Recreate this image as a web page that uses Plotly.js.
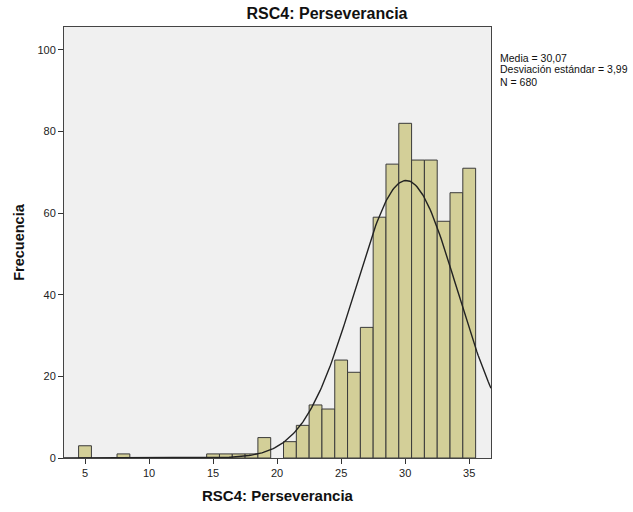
<!DOCTYPE html>
<html>
<head>
<meta charset="utf-8">
<script src="https://cdn.plot.ly/plotly-3.0.1.min.js"></script>
<style>html,body{margin:0;padding:0;background:#fff;}#chart{width:633px;height:512px;}</style>
</head>
<body>
<div id="chart"></div>
<script>
var categories = [5, 8, 15, 16, 17, 18, 19, 21, 22, 23, 24, 25, 26, 27, 28, 29, 30, 31, 32, 33, 34, 35];
var frequencies = [3, 1, 1, 1, 1, 1, 5, 4, 8, 13, 12, 24, 21, 32, 59, 72, 82, 73, 73, 58, 65, 71];
var xTickVals = [5, 10, 15, 20, 25, 30, 35];
var yTickVals = [0, 20, 40, 60, 80, 100];
var mean = 30.07;
var sd = 3.99;
var n = 680;
var statsLines = ["Media = 30,07", "Desviación estándar = 3,99", "N = 680"];

var xRange = [3.36, 36.7];
var curveX = [], curveY = [];
for (var i = 0; i <= 300; i++) {
  var x = xRange[0] + (xRange[1] - xRange[0]) * i / 300;
  curveX.push(x);
  curveY.push(n / (sd * Math.sqrt(2 * Math.PI)) * Math.exp(-0.5 * Math.pow((x - mean) / sd, 2)));
}

var data = [
  {type: 'bar', x: categories, y: frequencies, width: 1,
   marker: {color: '#d3cf98', line: {color: '#3a3a3a', width: 1}}, hoverinfo: 'x+y'},
  {type: 'scatter', mode: 'lines', x: curveX, y: curveY,
   line: {color: '#222222', width: 1.4}, hoverinfo: 'skip'}
];

var font = 'Liberation Sans, Arial, sans-serif';
var statsY = [0.9292, 0.9014, 0.8735];
var annotations = statsLines.map(function (t, k) {
  return {xref: 'paper', yref: 'paper', x: 1.019, y: statsY[k], xanchor: 'left', yanchor: 'middle',
          align: 'left', showarrow: false, text: t, borderpad: 0,
          font: {family: font, size: 10.5, color: '#111'}};
});

var layout = {
  width: 633, height: 512,
  margin: {l: 64, r: 142, t: 27, b: 54},
  paper_bgcolor: '#ffffff', plot_bgcolor: '#f0f0f0',
  showlegend: false, bargap: 0,
  font: {family: font, size: 11, color: '#222'},
  title: {text: '<b>RSC4: Perseverancia</b>', font: {family: font, size: 16, color: '#111'},
          x: 0.5166, xanchor: 'center', y: 0.973, yanchor: 'middle'},
  xaxis: {range: xRange, tickvals: xTickVals, ticks: 'outside', ticklen: 5, tickcolor: '#333',
          showgrid: false, zeroline: false, showline: true, linecolor: '#444', linewidth: 1,
          mirror: true, tickfont: {family: font, size: 11, color: '#222'},
          title: {text: '<b>RSC4: Perseverancia</b>', font: {family: font, size: 15, color: '#111'}, standoff: 12}},
  yaxis: {range: [0, 105.6], tickvals: yTickVals, ticks: 'outside', ticklen: 5, tickcolor: '#333',
          showgrid: false, zeroline: false, showline: true, linecolor: '#444', linewidth: 1,
          mirror: true, tickfont: {family: font, size: 11, color: '#222'},
          title: {text: '<b>Frecuencia</b>', font: {family: font, size: 14.5, color: '#111'}, standoff: 9}},
  annotations: annotations
};

Plotly.newPlot('chart', data, layout, {displayModeBar: false, staticPlot: true});
</script>
</body>
</html>
